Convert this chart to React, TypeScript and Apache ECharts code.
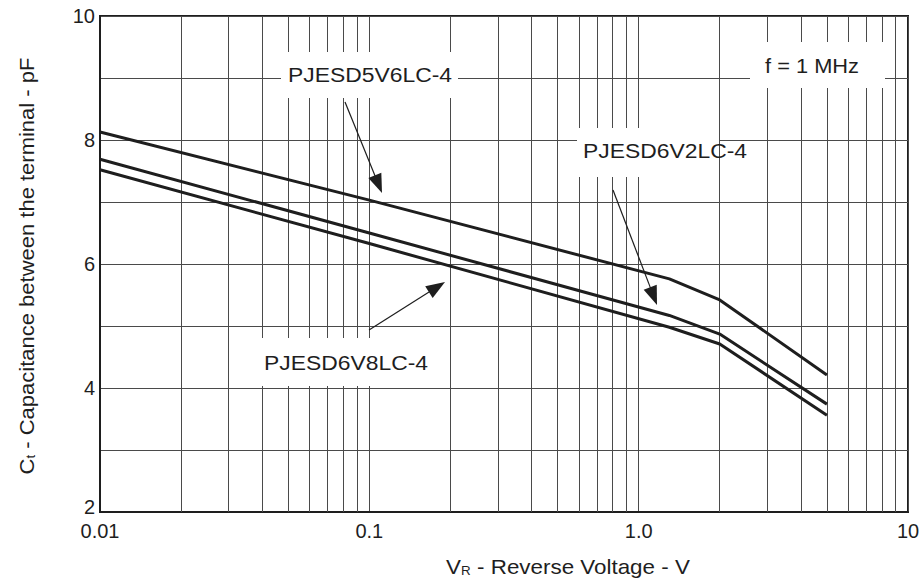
import React, { useEffect, useRef } from "react";
import * as echarts from "echarts";

// ---- data ----
const reverseVoltage = [0.01, 0.1, 1.3, 2, 5];
const ct5V6 = [8.13, 7.03, 5.76, 5.42, 4.21];
const ct6V2 = [7.69, 6.5, 5.17, 4.87, 3.74];
const ct6V8 = [7.52, 6.33, 4.98, 4.71, 3.56];

const xTickLabels = ["0.01", "0.1", "1.0", "10"];
const yTickLabels = ["2", "4", "6", "8", "10"];
const minorX = [
  0.02, 0.03, 0.04, 0.05, 0.06, 0.07, 0.08, 0.09,
  0.2, 0.3, 0.4, 0.5, 0.6, 0.7, 0.8, 0.9,
  2, 3, 4, 5, 6, 7, 8, 9,
];

const FONT = "'Liberation Sans', Arial, Helvetica, sans-serif";
const INK = "#1e1e1e";
const GRID = "#4a4a4a";

function toPairs(ys: number[]) {
  return reverseVoltage.map((x, i) => [x, ys[i]]);
}

function arrow(x1: number, y1: number, x2: number, y2: number) {
  const dx = x2 - x1;
  const dy = y2 - y1;
  const L = Math.hypot(dx, dy);
  const ux = dx / L;
  const uy = dy / L;
  const hl = 19;
  const hw = 7;
  const bx = x2 - ux * hl;
  const by = y2 - uy * hl;
  return [
    {
      type: "line",
      z: 30,
      shape: { x1, y1, x2: bx + ux * 2, y2: by + uy * 2 },
      style: { stroke: INK, lineWidth: 1.2 },
    },
    {
      type: "polygon",
      z: 30,
      shape: {
        points: [
          [x2, y2],
          [bx - uy * hw, by + ux * hw],
          [bx + uy * hw, by - ux * hw],
        ],
      },
      style: { fill: INK },
    },
  ];
}

function box(x: number, y: number, w: number, h: number) {
  return {
    type: "rect",
    z: 20,
    shape: { x, y, width: w, height: h },
    style: { fill: "#ffffff" },
  };
}

function label(text: string, x: number, y: number, sx = 1) {
  return {
    type: "text",
    z: 25,
    x,
    y,
    scaleX: sx,
    style: {
      text,
      fontFamily: FONT,
      fontSize: 21,
      fill: INK,
      align: "center",
      verticalAlign: "middle",
    },
  };
}

export default function App() {
  const ref = useRef<HTMLDivElement>(null);

  useEffect(() => {
    if (!ref.current) return;
    const chart = echarts.init(ref.current, null, { renderer: "svg" });

    const lineSeries = (name: string, ys: number[], extra: any = {}) => ({
      type: "line",
      name,
      data: toPairs(ys),
      symbol: "none",
      smooth: false,
      lineStyle: { color: INK, width: 3 },
      z: 5,
      ...extra,
    });

    chart.setOption({
      animation: false,
      backgroundColor: "#ffffff",
      textStyle: { fontFamily: FONT },
      grid: {
        left: 100,
        right: 16,
        top: 16,
        bottom: 67,
        show: true,
        borderColor: INK,
        borderWidth: 2,
        containLabel: false,
        outerBoundsMode: "none",
      },
      xAxis: {
        type: "log",
        logBase: 10,
        min: 0.01,
        max: 10,
        axisLine: { show: true, lineStyle: { color: INK, width: 2 } },
        axisTick: { show: false },
        splitLine: { show: true, lineStyle: { color: GRID, width: 1 } },
        axisLabel: {
          color: INK,
          fontSize: 20,
          fontFamily: FONT,
          margin: 9,
          formatter: (v: number) => {
            const i = Math.round(Math.log10(v)) + 2;
            return xTickLabels[i] ?? "";
          },
        },
      },
      yAxis: {
        type: "value",
        min: 2,
        max: 10,
        interval: 1,
        axisLine: { show: true, lineStyle: { color: INK, width: 2 } },
        axisTick: { show: false },
        splitLine: { show: true, lineStyle: { color: GRID, width: 1 } },
        axisLabel: {
          color: INK,
          fontSize: 20,
          fontFamily: FONT,
          margin: 5,
          formatter: (v: number) => {
            const s = String(v);
            if (!yTickLabels.includes(s)) return "";
            return s === yTickLabels[0] ? "{low|" + s + "}" : s;
          },
          rich: {
            low: { fontSize: 20, fontFamily: FONT, color: INK, padding: [0, 0, 10, 0] },
          },
        },
      },
      series: [
        lineSeries("PJESD5V6LC-4", ct5V6, {
          markLine: {
            silent: true,
            symbol: ["none", "none"],
            label: { show: false },
            emphasis: { disabled: true },
            lineStyle: { color: GRID, width: 1, type: "solid" },
            z: 1,
            data: minorX.map((v) => ({ xAxis: v })),
          },
        }),
        lineSeries("PJESD6V2LC-4", ct6V2),
        lineSeries("PJESD6V8LC-4", ct6V8),
      ],
      graphic: [
        box(281, 52, 177, 46),
        box(577, 128, 142, 49),
        box(245, 338, 197, 48),
        box(750, 42, 135, 46),
        label("PJESD5V6LC-4", 370, 75, 1.09),
        label("PJESD6V2LC-4", 665, 151, 1.09),
        label("PJESD6V8LC-4", 346, 363, 1.09),
        label("f = 1 MHz", 812, 66, 1.04),
        ...arrow(345, 102, 382, 193),
        ...arrow(613, 190, 657, 305),
        ...arrow(369, 330, 445, 282),
        {
          type: "text",
          z: 25,
          x: 27,
          y: 266,
          rotation: Math.PI / 2,
          scaleX: 1.1,
          style: {
            text: "{a|C}{s|t}{a| - Capacitance between the terminal - pF}",
            fontFamily: FONT,
            fill: INK,
            align: "center",
            verticalAlign: "middle",
            rich: {
              a: { fontSize: 20, fontFamily: FONT, fill: INK },
              s: { fontSize: 12, fontFamily: FONT, fill: INK, verticalAlign: "bottom" },
            },
          },
        },
        {
          type: "text",
          z: 25,
          x: 568,
          y: 567,
          scaleX: 1.12,
          style: {
            text: "{a|V}{s|R}{a| - Reverse Voltage - V}",
            fontFamily: FONT,
            fill: INK,
            align: "center",
            verticalAlign: "middle",
            rich: {
              a: { fontSize: 20, fontFamily: FONT, fill: INK },
              s: { fontSize: 12, fontFamily: FONT, fill: INK, verticalAlign: "bottom" },
            },
          },
        },
      ],
    });

    return () => chart.dispose();
  }, []);

  return (
    <div
      ref={ref}
      style={{ position: "absolute", left: 0, top: 0, width: 924, height: 579 }}
    />
  );
}
